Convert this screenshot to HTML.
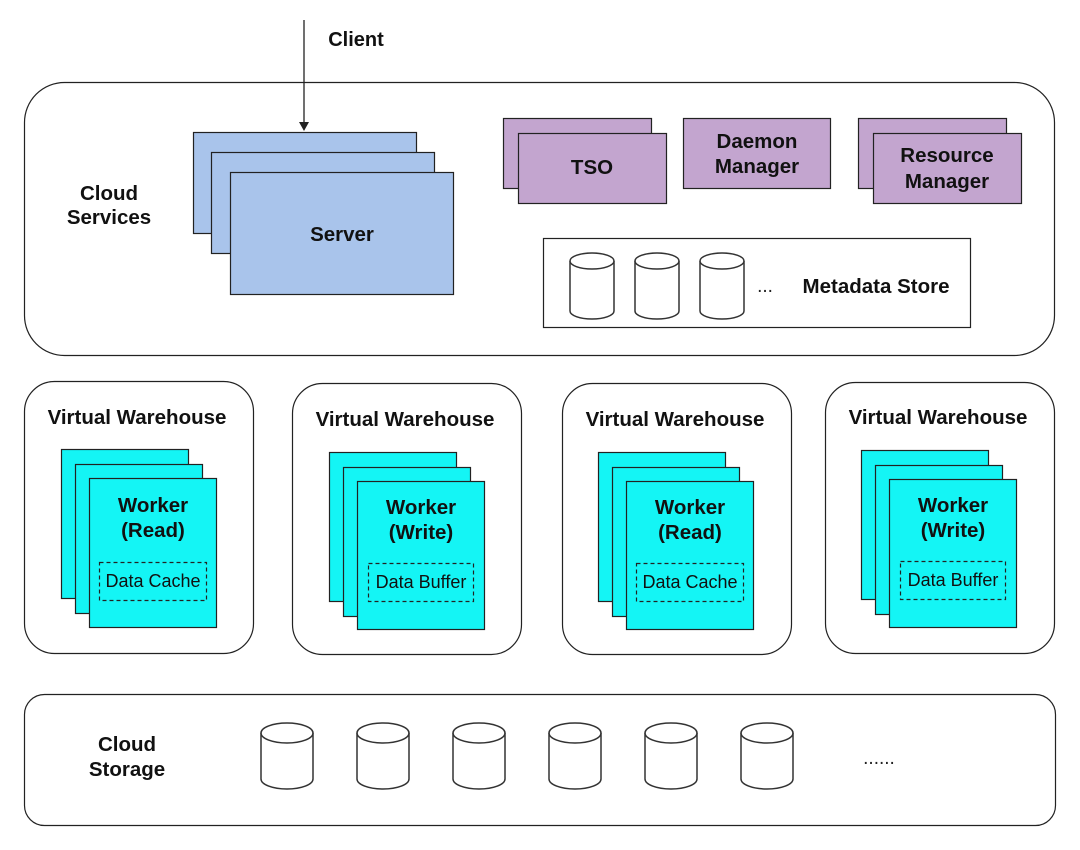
<!DOCTYPE html>
<html><head><meta charset="utf-8"><style>
html,body{margin:0;padding:0;background:#fff;}
svg{display:block;font-family:"Liberation Sans",Arial,sans-serif;}
.b{font-weight:bold;fill:#111;}
</style></head><body>
<svg width="1080" height="850" viewBox="0 0 1080 850">
<defs>
<g id="cylS">
<path d="M0,8 v50 a22,8 0 0 0 44,0 v-50" fill="#fff" stroke="#333" stroke-width="1.5"/>
<ellipse cx="22" cy="8" rx="22" ry="8" fill="#fff" stroke="#333" stroke-width="1.5"/>
</g>
<g id="cylL">
<path d="M0,10 v46 a26,10 0 0 0 52,0 v-46" fill="#fff" stroke="#333" stroke-width="1.5"/>
<ellipse cx="26" cy="10" rx="26" ry="10" fill="#fff" stroke="#333" stroke-width="1.5"/>
</g>
</defs>
<!-- Cloud services -->
<rect x="24.5" y="82.5" width="1030" height="273" rx="40" fill="#fff" stroke="#222" stroke-width="1.2"/>
<text x="356" y="46" text-anchor="middle" class="b" font-size="20">Client</text>
<line x1="304" y1="20" x2="304" y2="124" stroke="#222" stroke-width="1.3"/>
<path d="M299,122 L309,122 L304,131 Z" fill="#222"/>
<text x="109" y="200" text-anchor="middle" class="b" font-size="20.5">Cloud</text>
<text x="109" y="224" text-anchor="middle" class="b" font-size="20.5">Services</text>
<rect x="193.5" y="132.5" width="223" height="101" fill="#a9c4eb" stroke="#222" stroke-width="1.2"/>
<rect x="211.5" y="152.5" width="223" height="101" fill="#a9c4eb" stroke="#222" stroke-width="1.2"/>
<rect x="230.5" y="172.5" width="223" height="122" fill="#a9c4eb" stroke="#222" stroke-width="1.2"/>
<text x="342" y="241" text-anchor="middle" class="b" font-size="20.5">Server</text>
<rect x="503.5" y="118.5" width="148" height="70" fill="#c3a5cf" stroke="#222" stroke-width="1.2"/>
<rect x="518.5" y="133.5" width="148" height="70" fill="#c3a5cf" stroke="#222" stroke-width="1.2"/>
<text x="592" y="174" text-anchor="middle" class="b" font-size="20.5">TSO</text>
<rect x="683.5" y="118.5" width="147" height="70" fill="#c3a5cf" stroke="#222" stroke-width="1.2"/>
<text x="757" y="148" text-anchor="middle" class="b" font-size="20.5">Daemon</text>
<text x="757" y="173" text-anchor="middle" class="b" font-size="20.5">Manager</text>
<rect x="858.5" y="118.5" width="148" height="70" fill="#c3a5cf" stroke="#222" stroke-width="1.2"/>
<rect x="873.5" y="133.5" width="148" height="70" fill="#c3a5cf" stroke="#222" stroke-width="1.2"/>
<text x="947" y="162" text-anchor="middle" class="b" font-size="20.5">Resource</text>
<text x="947" y="188" text-anchor="middle" class="b" font-size="20.5">Manager</text>
<rect x="543.5" y="238.5" width="427" height="89" fill="#fff" stroke="#222" stroke-width="1.2"/>
<use href="#cylS" x="570" y="253"/>
<use href="#cylS" x="635" y="253"/>
<use href="#cylS" x="700" y="253"/>
<text x="765" y="292" text-anchor="middle" font-size="19" fill="#222">...</text>
<text x="876" y="293" text-anchor="middle" class="b" font-size="20.5">Metadata Store</text>
<!-- Warehouses -->
<g transform="translate(24,381)">
<rect x="0.5" y="0.5" width="229" height="272" rx="30" fill="#fff" stroke="#222" stroke-width="1.2"/>
<text x="113" y="43" text-anchor="middle" class="b" font-size="20.5">Virtual Warehouse</text>
<rect x="37.5" y="68.5" width="127" height="149" fill="#14f5f5" stroke="#222" stroke-width="1.2"/>
<rect x="51.5" y="83.5" width="127" height="149" fill="#14f5f5" stroke="#222" stroke-width="1.2"/>
<rect x="65.5" y="97.5" width="127" height="149" fill="#14f5f5" stroke="#222" stroke-width="1.2"/>
<text x="129" y="131" text-anchor="middle" class="b" font-size="20.5">Worker</text>
<text x="129" y="156" text-anchor="middle" class="b" font-size="20.5">(Read)</text>
<rect x="75.5" y="181.5" width="107" height="38" fill="none" stroke="#222" stroke-width="1.2" stroke-dasharray="4,3"/>
<text x="129" y="206" text-anchor="middle" font-size="18" fill="#111">Data Cache</text>
</g>
<g transform="translate(292,383)">
<rect x="0.5" y="0.5" width="229" height="271" rx="30" fill="#fff" stroke="#222" stroke-width="1.2"/>
<text x="113" y="43" text-anchor="middle" class="b" font-size="20.5">Virtual Warehouse</text>
<rect x="37.5" y="69.5" width="127" height="149" fill="#14f5f5" stroke="#222" stroke-width="1.2"/>
<rect x="51.5" y="84.5" width="127" height="149" fill="#14f5f5" stroke="#222" stroke-width="1.2"/>
<rect x="65.5" y="98.5" width="127" height="148" fill="#14f5f5" stroke="#222" stroke-width="1.2"/>
<text x="129" y="131" text-anchor="middle" class="b" font-size="20.5">Worker</text>
<text x="129" y="156" text-anchor="middle" class="b" font-size="20.5">(Write)</text>
<rect x="76.5" y="180.5" width="105" height="38" fill="none" stroke="#222" stroke-width="1.2" stroke-dasharray="4,3"/>
<text x="129" y="205" text-anchor="middle" font-size="18" fill="#111">Data Buffer</text>
</g>
<g transform="translate(562,383)">
<rect x="0.5" y="0.5" width="229" height="271" rx="30" fill="#fff" stroke="#222" stroke-width="1.2"/>
<text x="113" y="43" text-anchor="middle" class="b" font-size="20.5">Virtual Warehouse</text>
<rect x="36.5" y="69.5" width="127" height="149" fill="#14f5f5" stroke="#222" stroke-width="1.2"/>
<rect x="50.5" y="84.5" width="127" height="149" fill="#14f5f5" stroke="#222" stroke-width="1.2"/>
<rect x="64.5" y="98.5" width="127" height="148" fill="#14f5f5" stroke="#222" stroke-width="1.2"/>
<text x="128" y="131" text-anchor="middle" class="b" font-size="20.5">Worker</text>
<text x="128" y="156" text-anchor="middle" class="b" font-size="20.5">(Read)</text>
<rect x="74.5" y="180.5" width="107" height="38" fill="none" stroke="#222" stroke-width="1.2" stroke-dasharray="4,3"/>
<text x="128" y="205" text-anchor="middle" font-size="18" fill="#111">Data Cache</text>
</g>
<g transform="translate(825,382)">
<rect x="0.5" y="0.5" width="229" height="271" rx="30" fill="#fff" stroke="#222" stroke-width="1.2"/>
<text x="113" y="42" text-anchor="middle" class="b" font-size="20.5">Virtual Warehouse</text>
<rect x="36.5" y="68.5" width="127" height="149" fill="#14f5f5" stroke="#222" stroke-width="1.2"/>
<rect x="50.5" y="83.5" width="127" height="149" fill="#14f5f5" stroke="#222" stroke-width="1.2"/>
<rect x="64.5" y="97.5" width="127" height="148" fill="#14f5f5" stroke="#222" stroke-width="1.2"/>
<text x="128" y="130" text-anchor="middle" class="b" font-size="20.5">Worker</text>
<text x="128" y="155" text-anchor="middle" class="b" font-size="20.5">(Write)</text>
<rect x="75.5" y="179.5" width="105" height="38" fill="none" stroke="#222" stroke-width="1.2" stroke-dasharray="4,3"/>
<text x="128" y="204" text-anchor="middle" font-size="18" fill="#111">Data Buffer</text>
</g>
<!-- Cloud storage -->
<rect x="24.5" y="694.5" width="1031" height="131" rx="20" fill="#fff" stroke="#222" stroke-width="1.2"/>
<text x="127" y="751" text-anchor="middle" class="b" font-size="20.5">Cloud</text>
<text x="127" y="776" text-anchor="middle" class="b" font-size="20.5">Storage</text>
<use href="#cylL" x="261" y="723"/>
<use href="#cylL" x="357" y="723"/>
<use href="#cylL" x="453" y="723"/>
<use href="#cylL" x="549" y="723"/>
<use href="#cylL" x="645" y="723"/>
<use href="#cylL" x="741" y="723"/>
<text x="879" y="764" text-anchor="middle" font-size="19" fill="#222">......</text>
</svg>
</body></html>
